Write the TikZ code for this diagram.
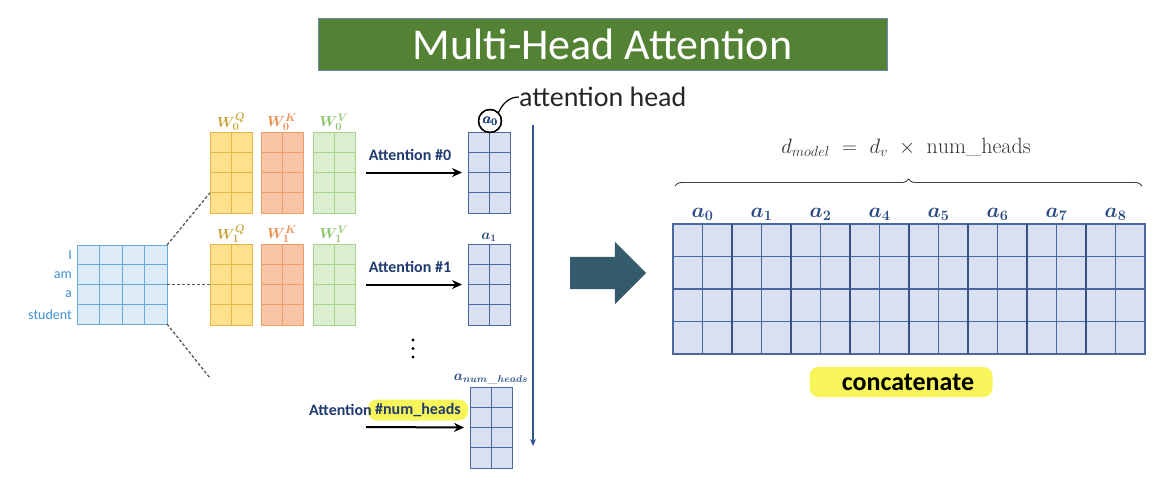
\documentclass[tikz,border=0pt]{standalone}
\usepackage{fontspec}
\setsansfont{Carlito}
\usepackage{tikz}
\usetikzlibrary{positioning,calc,shapes.arrows,decorations.pathreplacing,arrows.meta}

\definecolor{titlegreen}{HTML}{548235}
\definecolor{qfill}{HTML}{FFE08C}
\definecolor{qline}{HTML}{E3B94A}
\definecolor{qtext}{HTML}{C9A33A}
\definecolor{kfill}{HTML}{F8C6A6}
\definecolor{kline}{HTML}{EE9C68}
\definecolor{ktext}{HTML}{F08A4B}
\definecolor{vfill}{HTML}{DCEED0}
\definecolor{vline}{HTML}{A6D38C}
\definecolor{vtext}{HTML}{8BC26A}
\definecolor{inpfill}{HTML}{DDEBF7}
\definecolor{inpline}{HTML}{6AA8DE}
\definecolor{wordblue}{HTML}{3D8FD6}
\definecolor{headfill}{HTML}{D8E0F1}
\definecolor{headline}{HTML}{4A67A1}
\definecolor{headtext}{HTML}{2A4A85}
\definecolor{attnblue}{HTML}{1F3B70}
\definecolor{flowblue}{HTML}{2F5597}
\definecolor{arrowteal}{HTML}{345B6C}
\definecolor{hlyellow}{HTML}{F8F55A}

% grid lines inside a matrix node
\newcommand{\cellgrid}[4]{%
  \pgfmathtruncatemacro{\gridnc}{#2-1}%
  \pgfmathtruncatemacro{\gridnr}{#3-1}%
  \foreach \i in {1,...,\gridnc}
    \draw[#4] ($(#1.north west)!\i/#2!(#1.north east)$) -- ($(#1.south west)!\i/#2!(#1.south east)$);
  \foreach \j in {1,...,\gridnr}
    \draw[#4] ($(#1.north west)!\j/#3!(#1.south west)$) -- ($(#1.north east)!\j/#3!(#1.south east)$);
}

\begin{document}
\begin{tikzpicture}[x=1pt, y=-1pt,
        mat/.style={inner sep=0pt, outer sep=0pt, line width=0.9pt, anchor=north west, minimum width=42pt, minimum height=81pt},
        qmat/.style={mat, fill=qfill, draw=qline},
        kmat/.style={mat, fill=kfill, draw=kline},
        vmat/.style={mat, fill=vfill, draw=vline},
        headmat/.style={mat, fill=headfill, draw=headline},
        wlabel/.style={inner sep=1pt, font=\fontsize{15}{15}\selectfont\boldmath},
        hlabel/.style={inner sep=1pt, text=headtext, font=\fontsize{14}{14}\selectfont\boldmath},
        biglabel/.style={inner sep=2pt, text=headtext, font=\fontsize{20}{20}\selectfont\boldmath},
        word/.style={anchor=east, inner sep=0pt, text=wordblue, font=\sffamily\fontsize{14}{15}\selectfont},
        attn/.style={inner sep=0pt, text=attnblue, font=\sffamily\bfseries\fontsize{16}{18}\selectfont},
        arrow/.style={-{Stealth[length=10pt, width=9pt]}, line width=2pt},
        link/.style={dashed, dash pattern=on 3pt off 2pt, line width=1.3pt, draw=black!65},
        hilite/.style={fill=hlyellow, rounded corners=9pt, inner sep=0pt}
    ]
    \useasboundingbox (0,0) rectangle (1164,483);
    % Title
    \node[fill=titlegreen, draw=flowblue!70, line width=0.6pt, minimum width=569pt, minimum height=52pt,
          text=white, font=\sffamily\fontsize{44}{44}\selectfont] (title) at (602.5,44) {Multi-Head Attention};
    % Input sentence
    \node[mat, fill=inpfill, draw=inpline, minimum width=90pt, minimum height=79pt] (inp) at (77,245) {};
    \cellgrid{inp}{4}{4}{inpline, line width=0.9pt}
    \foreach \w [count=\n from 0] in {I, am, a, student}
        \node[word] (word\n) at ($(inp.north west)+(-5,10+\n*19.75)$) {\w};
    % Weight matrices
    \foreach \r/\y in {0/132, 1/244} {
        \node[qmat] (wq\r) at (210,\y) {};
        \node[kmat] (wk\r) at (261,\y) {};
        \node[vmat] (wv\r) at (313,\y) {};
        \cellgrid{wq\r}{2}{4}{qline, line width=0.9pt}
        \cellgrid{wk\r}{2}{4}{kline, line width=0.9pt}
        \cellgrid{wv\r}{2}{4}{vline, line width=0.9pt}
        \node[wlabel, text=qtext, above=0pt of wq\r] (lq\r) {$W_\r^Q$};
        \node[wlabel, text=ktext, above=0pt of wk\r] (lk\r) {$W_\r^K$};
        \node[wlabel, text=vtext, above=0pt of wv\r] (lv\r) {$W_\r^V$};
    }
    % Links from input
    \coordinate (cut) at (210,378);
    \draw[link] (inp.north east) -- ($(wq0.north west)!0.75!(wq0.south west)$);
    \draw[link] (inp.east) -- (wq1.west);
    \draw[link] (inp.south east) -- (cut);
    % Heads
    \node[headmat] (a0) at (468,132) {};
    \node[headmat] (a1) at (468,244) {};
    \node[headmat] (an) at (470,387) {};
    \foreach \h in {a0, a1, an}
        \cellgrid{\h}{2}{4}{headline, line width=0.8pt}
    \node[hlabel, circle, draw=black, line width=1.2pt, minimum size=23pt, inner sep=0pt] (la0) at (490,121) {$a_0$};
    \node[hlabel, above=1pt of a1] (la1) {$a_1$};
    \node[hlabel, above=1pt of an] (lan) {$a_{num\_heads}$};
    \node[anchor=west, inner sep=0pt, text=black!85, font=\sffamily\fontsize{28}{28}\selectfont] (ahead) at (519,97) {attention head};
    \draw[line width=1.2pt] (la0.north east) to[out=65, in=180] (ahead.west);
    % Attention arrows
    \node[attn] (att0) at (410,155) {Attention \#0};
    \node[attn] (att1) at (410,267) {Attention \#1};
    \draw[arrow, shorten <=11pt, shorten >=6pt] (wv0) -- (a0);
    \draw[arrow, shorten <=11pt, shorten >=6pt] (wv1) -- (a1);
    \foreach \d in {340,348.5,357}
        \fill (413,\d) circle (1.6pt);
    \node[hilite, minimum width=100pt, minimum height=21pt] (hlnum) at (418,410) {};
    \node[attn] (numh) at (418,410) {\#num\_heads};
    \node[attn, left=3pt of numh] (attn) {Attention};
    \coordinate (src) at (366,427);
    \draw[arrow, shorten >=6pt] (src) -- (an.west);
    % Flow down the heads
    \coordinate (vtop) at (533,125);
    \coordinate (vbot) at (533,446);
    \draw[-{Stealth[length=7pt, width=6pt]}, line width=1.6pt, draw=flowblue] (vtop) -- (vbot);
    % Concatenation
    \node[single arrow, fill=arrowteal, minimum height=76pt, single arrow head extend=15pt,
          single arrow tip angle=90, inner xsep=0pt, inner ysep=16pt] (bigarrow) at (600,273) {};
    \node[mat, fill=headfill, draw=headline, line width=1.3pt, minimum width=472pt, minimum height=130pt] (concat) at (673,224) {};
    \cellgrid{concat}{16}{4}{headline, line width=1.2pt}
    \foreach \k in {2,4,...,14}
        \draw[headline!80!black, line width=2.2pt] ([xshift=\k*29.5pt]concat.north west) -- ([xshift=\k*29.5pt]concat.south west);
    \foreach \s [count=\k from 0] in {0,1,2,4,5,6,7,8}
        \node[biglabel, anchor=south] (top\k) at ([xshift={(2*\k+1)*29.5pt}, yshift=1pt]concat.north west) {$a_{\s}$};
    \coordinate (bl) at (675,186);
    \coordinate (br) at (1142,186);
    \draw[decorate, decoration={brace, amplitude=7pt}, line width=0.9pt, draw=black!75] (bl) -- (br);
    \node[font=\fontsize{22}{22}\selectfont, text=black!80] (dmodel) at (906,147) {$d_{model}\ =\ d_v\ \times\ \mathrm{num\_heads}$};
    \node[hilite, minimum width=183pt, minimum height=30pt] (hlcat) at (901,382) {};
    \node[inner sep=0pt, font=\sffamily\bfseries\fontsize{26}{26}\selectfont] (catlab) at (908,382) {concatenate};
\end{tikzpicture}
\end{document}
